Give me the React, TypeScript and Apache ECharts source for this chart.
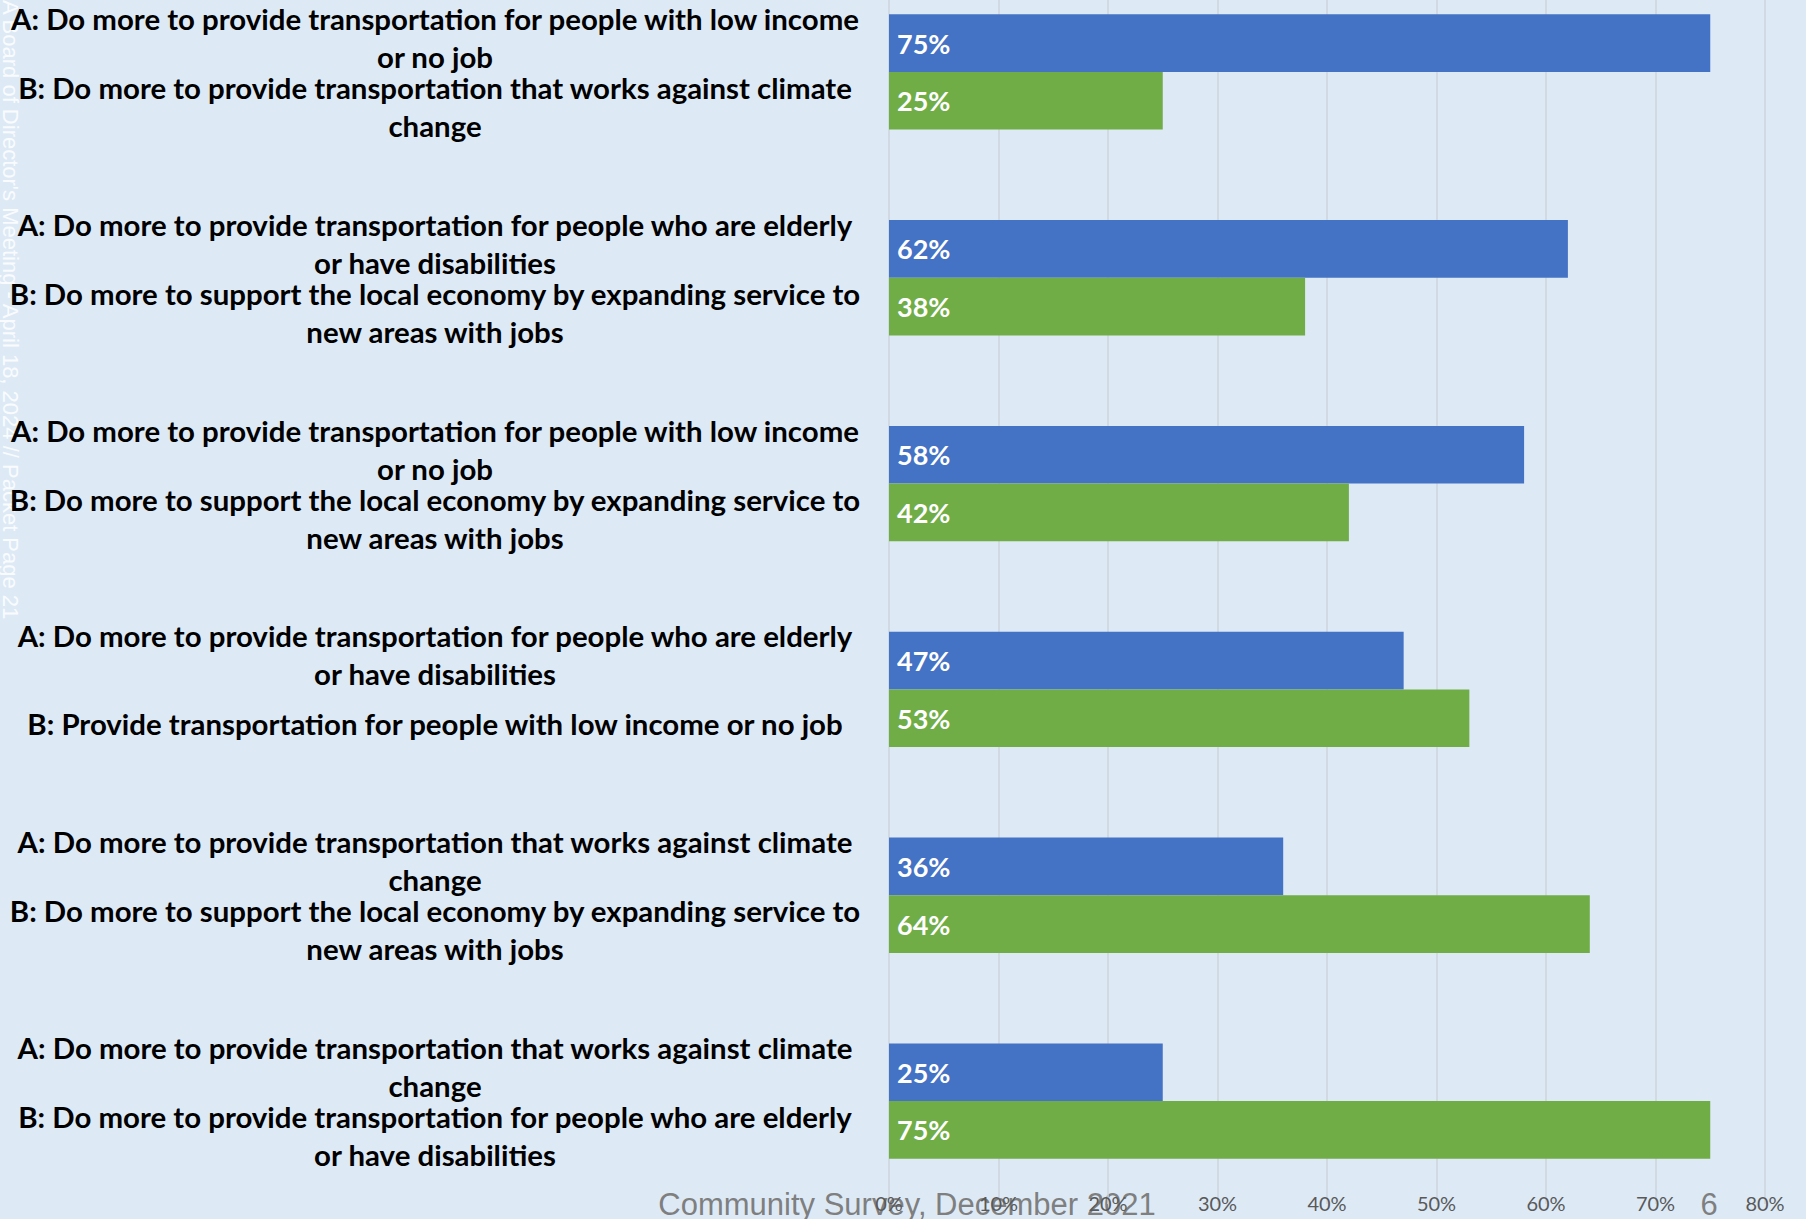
import React, { useEffect, useRef } from "react";
import * as echarts from "echarts";

const categoriesA = [
  "A: Do more to provide transportation for people with low income\nor no job",
  "A: Do more to provide transportation for people who are elderly\nor have disabilities",
  "A: Do more to provide transportation for people with low income\nor no job",
  "A: Do more to provide transportation for people who are elderly\nor have disabilities",
  "A: Do more to provide transportation that works against climate\nchange",
  "A: Do more to provide transportation that works against climate\nchange",
];
const categoriesB = [
  "B: Do more to provide transportation that works against climate\nchange",
  "B: Do more to support the local economy by expanding service to\nnew areas with jobs",
  "B: Do more to support the local economy by expanding service to\nnew areas with jobs",
  "B: Provide transportation for people with low income or no job",
  "B: Do more to support the local economy by expanding service to\nnew areas with jobs",
  "B: Do more to provide transportation for people who are elderly\nor have disabilities",
];
const optionA = [75, 62, 58, 47, 36, 25];
const optionB = [25, 38, 42, 53, 64, 75];
const xMax = 80;
const xInterval = 10;
const footerText = "Community Survey, December 2021";
const pageNumber = "6";
const watermark = "A Board of Director's Meeting - April 18, 2024 // Packet Page 21";

const W = 1806;
const H = 1219;
const GRID_LEFT = 889;
const GRID_RIGHT = 41;
const LABEL_CENTER_X = 435;

export default function App() {
  const ref = useRef<HTMLDivElement>(null);
  useEffect(() => {
    document.body.style.margin = "0";
    const chart = echarts.init(ref.current!, null, { renderer: "svg" });
    const labelFont = {
      fontFamily: "Lato",
      fontWeight: 700,
      fontSize: 29.4,
      color: "#000000",
      lineHeight: 38,
      align: "center" as const,
      verticalAlign: "middle" as const,
    };
    const spacer = { sp: { lineHeight: 69, fontSize: 10 } };
    const barLabel = {
      show: true,
      position: "insideLeft",
      distance: 8,
      formatter: "{c}%",
      color: "#FFFFFF",
      fontFamily: "Lato",
      fontWeight: "bold",
      fontSize: 27,
    };
    chart.setOption({
      animation: false,
      backgroundColor: "#DDEAF6",
      grid: {
        left: GRID_LEFT,
        right: GRID_RIGHT,
        top: -31,
        height: 1235,
        containLabel: false,
        outerBoundsMode: "none",
      },
      xAxis: {
        type: "value",
        min: 0,
        max: xMax,
        interval: xInterval,
        axisLine: { show: false },
        axisTick: { show: false },
        splitLine: { show: true, lineStyle: { color: "#CDD5DD", width: 1.5 } },
        axisLabel: {
          formatter: (v: number) => v + "%",
          color: "#595959",
          fontFamily: "Lato",
          fontSize: 20,
          margin: -11,
          verticalAlign: "top",
        },
      },
      yAxis: [
        {
          type: "category",
          data: categoriesA,
          inverse: true,
          position: "left",
          axisLine: { show: false },
          axisTick: { show: false },
          splitLine: { show: false },
          axisLabel: {
            ...labelFont,
            interval: 0,
            margin: GRID_LEFT - LABEL_CENTER_X,
            formatter: (v: string) => v + "\n{sp| }",
            rich: spacer,
          },
        },
        {
          type: "category",
          data: categoriesB,
          inverse: true,
          position: "right",
          offset: -(W - GRID_RIGHT - LABEL_CENTER_X),
          axisLine: { show: false },
          axisTick: { show: false },
          splitLine: { show: false },
          axisLabel: {
            ...labelFont,
            interval: 0,
            margin: 0,
            formatter: (v: string) => "{sp| }\n" + v,
            rich: spacer,
          },
        },
      ],
      series: [
        {
          name: "A",
          type: "bar",
          yAxisIndex: 0,
          data: optionA,
          barGap: "0%",
          barCategoryGap: "44%",
          itemStyle: { color: "#4472C4" },
          label: barLabel,
        },
        {
          name: "B",
          type: "bar",
          yAxisIndex: 0,
          data: optionB,
          barGap: "0%",
          barCategoryGap: "44%",
          itemStyle: { color: "#70AD47" },
          label: barLabel,
        },
      ],
      graphic: [
        {
          type: "text",
          x: -1,
          y: 0,
          rotation: -Math.PI / 2,
          style: {
            text: watermark,
            fill: "rgba(255,255,255,0.85)",
            font: "22px 'Liberation Sans', Arial, sans-serif",
            textAlign: "left",
            textVerticalAlign: "bottom",
          },
        },
        {
          type: "text",
          x: 907,
          y: 1204,
          style: {
            text: footerText,
            fill: "#7F7F7F",
            font: "31px 'Liberation Sans', Arial, sans-serif",
            textAlign: "center",
            textVerticalAlign: "middle",
          },
        },
        {
          type: "text",
          x: 1709,
          y: 1204,
          style: {
            text: pageNumber,
            fill: "#7F7F7F",
            font: "31px 'Liberation Sans', Arial, sans-serif",
            textAlign: "center",
            textVerticalAlign: "middle",
          },
        },
      ],
    });
    return () => chart.dispose();
  }, []);
  return <div ref={ref} style={{ width: W, height: H }} />;
}
